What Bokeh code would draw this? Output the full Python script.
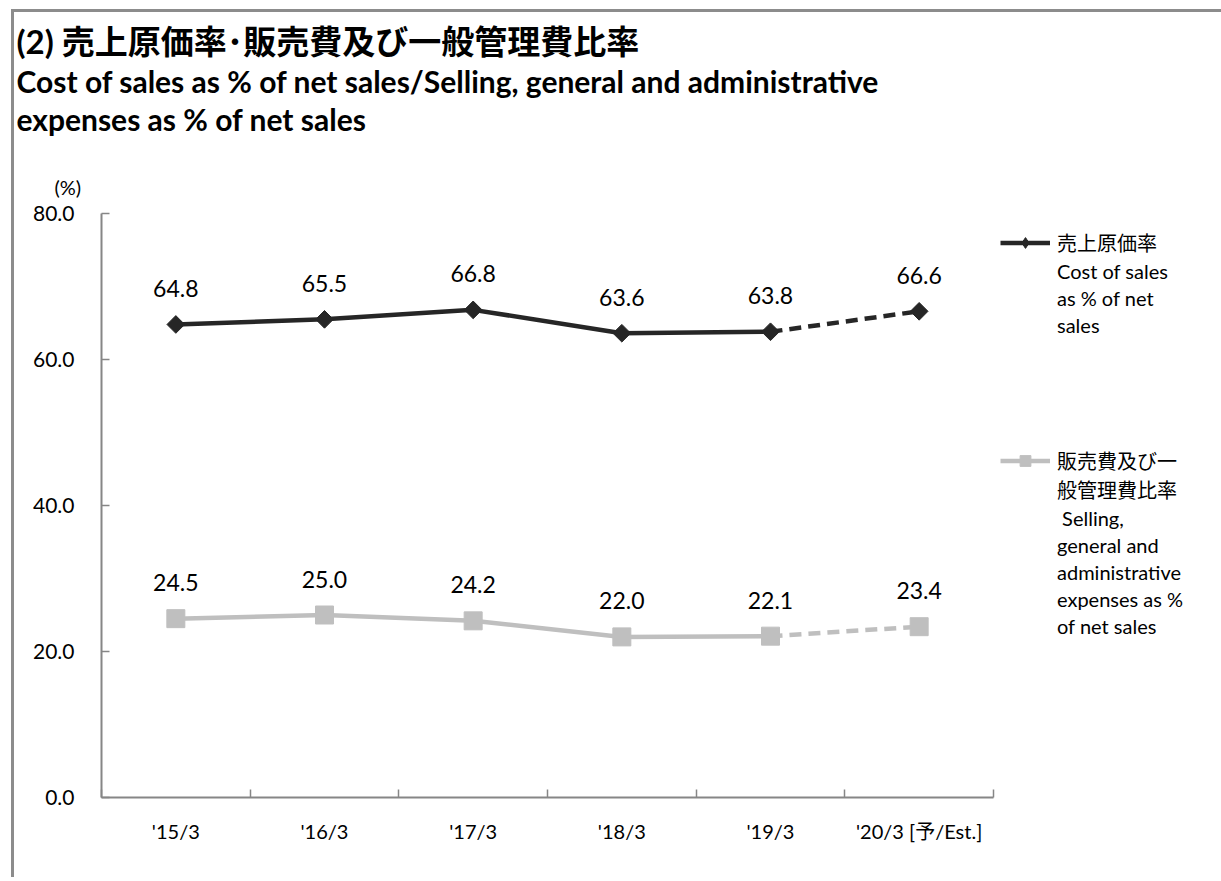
import math
from bokeh.plotting import figure
from bokeh.models import (ColumnDataSource, Range1d, FixedTicker, LabelSet, Title,
                          Legend, LegendItem, PrintfTickFormatter)
from bokeh.core.properties import value
from bokeh.embed import file_html
from bokeh.resources import INLINE

# ---------------- data ----------------
categories = ["'15/3", "'16/3", "'17/3", "'18/3", "'19/3", "'20/3 [予/Est.]"]
cost_ratio = [64.8, 65.5, 66.8, 63.6, 63.8, 66.6]   # 売上原価率
sga_ratio = [24.5, 25.0, 24.2, 22.0, 22.1, 23.4]    # 販売費及び一般管理費比率
y_ticks = [0, 20, 40, 60, 80]
last_actual = 4  # '19/3 is the last actual; '20/3 is an estimate (dashed)

title_lines = ["(2) 売上原価率･販売費及び一般管理費比率",
               "Cost of sales as % of net sales/Selling, general and administrative",
               "expenses as % of net sales"]
unit_label = "(%)"
legend1_lines = ["売上原価率", "Cost of sales", "as % of net", "sales"]
legend2_lines = ["販売費及び一", "般管理費比率", " Selling,", "general and",
                 "administrative", "expenses as %", "of net sales"]

# ---------------- style ----------------
FONT = "Lato, Noto Sans CJK JP"
DARK = "#262626"
GRAY = "#BFBFBF"
AXIS = "#868686"

W, H = 1205, 865          # canvas size
FL, FT, FW, FH = 87, 201, 892, 584   # frame left/top/width/height (canvas px)
n = len(categories)

p = figure(frame_width=FW, frame_height=FH,
           min_border_left=FL, min_border_top=FT,
           min_border_right=W - FL - FW, min_border_bottom=H - FT - FH,
           x_range=Range1d(0, n), y_range=Range1d(y_ticks[0], y_ticks[-1]),
           output_backend="svg", toolbar_location=None,
           background_fill_color="white", border_fill_color="white",
           styles={"border-left": "3px solid #8c8c8c", "border-top": "3px solid #8c8c8c",
                   "margin-left": "11px", "margin-top": "9px"})
p.grid.visible = False
p.outline_line_color = None

xs = [i + 0.5 for i in range(n)]

# x axis: ticks on category boundaries, labels at centres
xa = p.xaxis[0]
xa.ticker = FixedTicker(ticks=xs, minor_ticks=list(range(n + 1)))
xa.major_label_overrides = {x: c for x, c in zip(xs, categories)}
xa.major_tick_in = 0
xa.major_tick_out = 0
xa.minor_tick_in = 8
xa.minor_tick_out = 0
xa.axis_line_color = AXIS
xa.axis_line_width = 2
xa.minor_tick_line_color = AXIS
xa.minor_tick_line_width = 1.5
xa.major_label_standoff = 21
xa.major_label_text_font = FONT
xa.major_label_text_font_size = "20px"
xa.major_label_text_color = "black"

ya = p.yaxis[0]
ya.ticker = FixedTicker(ticks=y_ticks, minor_ticks=[])
ya.formatter = PrintfTickFormatter(format="%.1f")
ya.major_tick_in = 8
ya.major_tick_out = 0
ya.minor_tick_in = 0
ya.minor_tick_out = 0
ya.axis_line_color = AXIS
ya.axis_line_width = 2
ya.major_tick_line_color = AXIS
ya.major_tick_line_width = 1.5
ya.major_label_standoff = 27
ya.major_label_text_font = FONT
ya.major_label_text_font_size = "21px"
ya.major_label_text_color = "black"

# ---------------- series ----------------
k = last_actual
cost_solid = p.line(xs[:k + 1], cost_ratio[:k + 1], line_color=DARK, line_width=4.5)
p.line(xs[k:], cost_ratio[k:], line_color=DARK, line_width=4.5, line_dash="12 7")
# narrow diamond (used as legend key) sits fully under the square-diamond marker
cost_key = p.scatter(xs, cost_ratio, marker="diamond", size=12, fill_color=DARK, line_color=DARK)
p.scatter(xs, cost_ratio, marker="square", angle=math.pi / 4, size=12.5,
          fill_color=DARK, line_color=DARK)

sga_solid = p.line(xs[:k + 1], sga_ratio[:k + 1], line_color=GRAY, line_width=4.5)
p.line(xs[k:], sga_ratio[k:], line_color=GRAY, line_width=4.5, line_dash="12 7")
sga_mark = p.scatter(xs, sga_ratio, marker="square", size=18, fill_color=GRAY, line_color=GRAY)

src = ColumnDataSource(dict(x=xs, cost=cost_ratio, sga=sga_ratio,
                            cost_lbl=[f"{v:.1f}" for v in cost_ratio],
                            sga_lbl=[f"{v:.1f}" for v in sga_ratio]))
for col, lbl in (("cost", "cost_lbl"), ("sga", "sga_lbl")):
    p.add_layout(LabelSet(x="x", y=col, text=lbl, source=src, text_align="center",
                          text_baseline="middle", y_offset=36, text_font=value(FONT),
                          text_font_size=value("23px"), text_color=value("black")))

# ---------------- titles (stacked above the frame; p.title is outermost) ----------------
p.title.text = title_lines[0]
p.title.align = "left"
p.title.offset = -85
p.title.standoff = 0
p.title.text_font = FONT
p.title.text_font_size = "33px"
p.title.text_font_style = "bold"
p.title.text_color = "black"

p.add_layout(Title(text=unit_label, align="left", offset=-47, standoff=30,
                   text_font=FONT, text_font_size="20px", text_font_style="normal",
                   text_color="black"), "above")
p.add_layout(Title(text=" ", text_font=FONT, text_font_size="10px", standoff=7.4), "above")   # spacer
p.add_layout(Title(text=title_lines[2], align="left", offset=-85, standoff=0,
                   text_font=FONT, text_font_size="30px", text_font_style="bold",
                   text_color="black"), "above")
p.add_layout(Title(text=title_lines[1], align="left", offset=-85, standoff=0,
                   text_font=FONT, text_font_size="30px", text_font_style="bold",
                   text_color="black"), "above")

# ---------------- legend (right panel) ----------------
blank = p.line([], [], line_alpha=0)

items = [LegendItem(label=legend1_lines[0], renderers=[cost_solid, cost_key])]
items += [LegendItem(label=t, renderers=[blank]) for t in legend1_lines[1:]]
items += [LegendItem(label=" ", renderers=[blank]) for _ in range(4)]
items += [LegendItem(label=legend2_lines[0], renderers=[sga_solid, sga_mark])]
items += [LegendItem(label=t, renderers=[blank]) for t in legend2_lines[1:]]

legend = Legend(items=items, location=(7, 158),
                glyph_width=50, glyph_height=27, label_standoff=7, padding=0, margin=0,
                spacing=0, border_line_color=None, background_fill_alpha=0,
                label_text_font=FONT, label_text_font_size="20px", label_text_color="black",
                label_height=27, click_policy="none")
p.add_layout(legend, "right")

open("out.html", "w").write(file_html(p, INLINE))
